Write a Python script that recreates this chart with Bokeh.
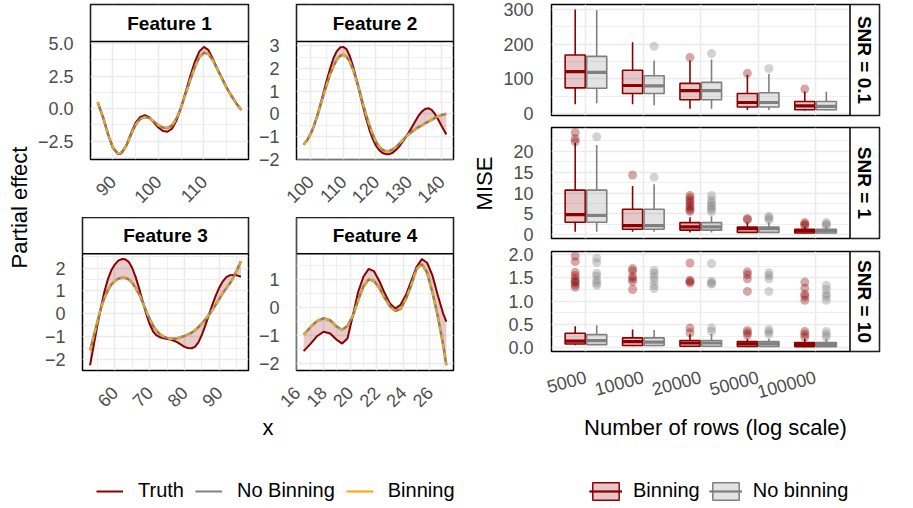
import math
import numpy as np
from bokeh.plotting import figure
from bokeh.models import Range1d, FixedTicker, Legend, LegendItem, BoxAnnotation, Label
from bokeh.layouts import row, column
from bokeh.core.properties import value
from bokeh.embed import file_html
from bokeh.resources import INLINE

FONT = "Liberation Sans"
TICK_COLOR = "#4D4D4D"
GRID = "#EBEBEB"
DARKRED = "#8B0000"
GREY = "#808080"
ORANGE = "#FFA500"

# ---------------- partial effects (left) ----------------
feature_titles = ["Feature 1", "Feature 2", "Feature 3", "Feature 4"]

f1_x = [86.7, 88, 89, 90, 91, 91.5, 92, 93, 94, 95, 96, 97, 98, 99, 100, 101, 102, 103, 104, 105,
        106, 107, 108, 109, 110, 111, 112, 113, 114, 115, 116, 117, 118.2]
f1_truth = [0.5, -0.8, -2.0, -3.0, -3.45, -3.5, -3.4, -2.8, -1.9, -1.1, -0.65, -0.5, -0.65, -1.05, -1.45,
            -1.72, -1.78, -1.55, -0.9, 0.1, 1.3, 2.5, 3.6, 4.4, 4.75, 4.5, 3.8, 3.0, 2.3, 1.6, 1.0, 0.45, -0.1]
f1_nobin = [0.5, -0.8, -2.0, -2.95, -3.4, -3.45, -3.35, -2.85, -2.0, -1.25, -0.8, -0.65, -0.72, -0.98, -1.28,
            -1.45, -1.48, -1.3, -0.75, 0.1, 1.15, 2.2, 3.2, 3.95, 4.3, 4.2, 3.7, 3.0, 2.3, 1.6, 1.0, 0.45, -0.1]
f1_bin = [0.5, -0.8, -2.0, -2.95, -3.4, -3.45, -3.35, -2.85, -2.0, -1.25, -0.8, -0.65, -0.72, -0.98, -1.28,
          -1.45, -1.48, -1.3, -0.75, 0.1, 1.15, 2.2, 3.2, 3.95, 4.3, 4.2, 3.7, 3.0, 2.3, 1.6, 1.0, 0.45, -0.1]
f1_xticks = [90, 100, 110]
f1_xminor = [95, 105, 115]
f1_yticks = [-2.5, 0, 2.5, 5]
f1_yticklabels = ["\u22122.5", "0.0", "2.5", "5.0"]
f1_yminor = [-3.75, -1.25, 1.25, 3.75]

f2_x = [97.9, 99, 100, 101, 102, 103, 104, 105, 106, 107, 108, 109, 110, 111, 112, 113, 114, 115, 116, 117,
        118, 119, 120, 121, 122, 123, 124, 125, 126, 127, 128, 129, 130, 131, 132, 133, 134, 135, 136, 137,
        138, 139, 140, 141, 141.5]
f2_truth = [-1.35, -1.15, -0.9, -0.55, -0.1, 0.4, 0.95, 1.5, 2.0, 2.45, 2.75, 2.92, 2.95, 2.85, 2.55, 2.1,
            1.55, 0.95, 0.35, -0.2, -0.7, -1.1, -1.4, -1.6, -1.72, -1.77, -1.77, -1.72, -1.6, -1.45, -1.25,
            -1.05, -0.82, -0.58, -0.32, -0.08, 0.1, 0.22, 0.25, 0.18, 0.0, -0.25, -0.52, -0.78, -0.9]
f2_nobin = [-1.35, -1.15, -0.88, -0.55, -0.12, 0.35, 0.85, 1.3, 1.75, 2.1, 2.38, 2.55, 2.6, 2.52, 2.3, 1.95,
            1.5, 1.0, 0.45, -0.05, -0.5, -0.9, -1.22, -1.45, -1.58, -1.64, -1.63, -1.57, -1.47, -1.33, -1.18,
            -1.03, -0.9, -0.78, -0.68, -0.58, -0.5, -0.42, -0.34, -0.26, -0.18, -0.11, -0.05, -0.01, 0.0]
f2_bin = [-1.35, -1.15, -0.88, -0.55, -0.12, 0.35, 0.85, 1.3, 1.75, 2.1, 2.38, 2.55, 2.6, 2.52, 2.3, 1.95,
          1.5, 1.0, 0.45, -0.05, -0.5, -0.9, -1.22, -1.45, -1.58, -1.64, -1.63, -1.57, -1.47, -1.33, -1.18,
          -1.03, -0.9, -0.78, -0.68, -0.58, -0.5, -0.42, -0.34, -0.26, -0.18, -0.11, -0.05, -0.01, 0.0]
f2_xticks = [100, 110, 120, 130, 140]
f2_xminor = [105, 115, 125, 135]
f2_yticks = [-2, -1, 0, 1, 2, 3]
f2_yticklabels = ["\u22122", "\u22121", "0", "1", "2", "3"]
f2_yminor = [-1.5, -0.5, 0.5, 1.5, 2.5]

f3_x = [52.9, 54, 55, 56, 57, 58, 59, 60, 61, 62, 63, 64, 65, 66, 67, 68, 69, 70, 71, 72, 73, 74, 75,
        76, 77, 78, 79, 80, 81, 82, 83, 84, 85, 86, 87, 88, 89, 90, 91, 92, 93, 94, 95, 96.2]
f3_truth = [-2.25, -1.35, -0.5, 0.25, 0.95, 1.5, 1.9, 2.15, 2.32, 2.39, 2.38, 2.27, 2.0, 1.6, 1.1, 0.55,
            0.0, -0.45, -0.78, -0.95, -1.03, -1.07, -1.1, -1.13, -1.18, -1.25, -1.35, -1.45, -1.5, -1.51,
            -1.45, -1.25, -0.92, -0.5, -0.05, 0.4, 0.8, 1.15, 1.42, 1.6, 1.68, 1.7, 1.68, 1.62]
f3_nobin = [-1.6, -0.95, -0.35, 0.22, 0.68, 1.02, 1.27, 1.43, 1.53, 1.57, 1.57, 1.5, 1.35, 1.12, 0.85, 0.5,
            0.12, -0.22, -0.52, -0.74, -0.9, -1.0, -1.06, -1.09, -1.09, -1.07, -1.02, -0.97, -0.9, -0.83,
            -0.73, -0.58, -0.42, -0.25, -0.05, 0.17, 0.4, 0.65, 0.9, 1.12, 1.32, 1.58, 1.9, 2.3]
f3_bin = [-1.6, -0.95, -0.35, 0.22, 0.68, 1.02, 1.27, 1.43, 1.53, 1.57, 1.57, 1.5, 1.35, 1.12, 0.85, 0.5,
          0.12, -0.22, -0.52, -0.74, -0.9, -1.0, -1.06, -1.09, -1.09, -1.07, -1.02, -0.97, -0.9, -0.83,
          -0.73, -0.58, -0.42, -0.25, -0.05, 0.17, 0.4, 0.65, 0.9, 1.12, 1.32, 1.58, 1.9, 2.3]
f3_xticks = [60, 70, 80, 90]
f3_xminor = [55, 65, 75, 85, 95]
f3_yticks = [-2, -1, 0, 1, 2]
f3_yticklabels = ["\u22122", "\u22121", "0", "1", "2"]
f3_yminor = [-1.5, -0.5, 0.5, 1.5, 2.5]

f4_x = [16.5, 17.0, 17.5, 18.0, 18.5, 19.0, 19.4, 19.8, 20.2, 20.6, 21.0, 21.4, 21.8, 22.2, 22.6, 23.0,
        23.4, 23.8, 24.2, 24.6, 25.0, 25.4, 25.8, 26.2, 26.6, 27.0, 27.25]
f4_truth = [-1.55, -1.3, -1.02, -0.86, -0.92, -1.15, -1.28, -1.1, -0.3, 0.55, 1.1, 1.38, 1.3, 0.95, 0.52,
            0.15, -0.03, 0.1, 0.45, 0.95, 1.45, 1.73, 1.6, 1.15, 0.45, -0.2, -0.5]
f4_nobin = [-0.96, -0.7, -0.48, -0.38, -0.45, -0.68, -0.79, -0.65, -0.3, 0.25, 0.75, 1.0, 0.95, 0.7, 0.35,
            0.05, -0.12, -0.05, 0.3, 0.8, 1.38, 1.55, 1.25, 0.55, -0.3, -1.3, -2.05]
f4_bin = [-0.96, -0.7, -0.48, -0.38, -0.45, -0.68, -0.79, -0.65, -0.3, 0.25, 0.75, 1.0, 0.95, 0.7, 0.35,
          0.05, -0.12, -0.05, 0.3, 0.8, 1.38, 1.55, 1.25, 0.55, -0.3, -1.3, -2.05]
f4_xticks = [16, 18, 20, 22, 24, 26]
f4_xminor = [17, 19, 21, 23, 25, 27]
f4_yticks = [-2, -1, 0, 1]
f4_yticklabels = ["\u22122", "\u22121", "0", "1"]
f4_yminor = [-1.5, -0.5, 0.5, 1.5]

# ---------------- MISE boxplots (right) ----------------
n_rows = ["5000", "10000", "20000", "50000", "100000"]
snr_labels = ["SNR = 0.1", "SNR = 1", "SNR = 10"]

# SNR = 0.1
bin01_lower = [27, 27, 14, 10, 9]
bin01_q1 = [74, 58, 40, 19, 11]
bin01_med = [121, 81, 66, 32, 22]
bin01_q3 = [169, 125, 87, 58, 35]
bin01_upper = [300, 206, 153, 112, 64]
bin01_out = [[], [], [162], [116], [71]]
nob01_lower = [30, 24, 14, 10, 9]
nob01_q1 = [73, 58, 40, 19, 11]
nob01_med = [119, 80, 66, 32, 21]
nob01_q3 = [165, 109, 90, 60, 35]
nob01_upper = [298, 153, 156, 114, 63]
nob01_out = [[], [194], [173], [130], []]
snr01_yticks = [0, 100, 200, 300]
snr01_yticklabels = ["0", "100", "200", "300"]
snr01_yminor = [50, 150, 250]

# SNR = 1
bin1_lower = [0.7, 0.7, 0.5, 0.4, 0.3]
bin1_q1 = [3.0, 1.3, 1.1, 0.55, 0.4]
bin1_med = [4.8, 2.2, 1.9, 1.45, 0.9]
bin1_q3 = [10.7, 6.1, 2.9, 1.85, 1.3]
bin1_upper = [22.0, 11.7, 4.2, 3.0, 1.9]
bin1_out = [[22.3, 23.0, 24.5], [14.3], [5.6, 6.0, 6.5, 7.0, 7.6, 8.2, 8.8, 9.4], [3.6, 3.9], [2.2, 2.5, 2.9]]
nob1_lower = [0.7, 0.7, 0.5, 0.4, 0.3]
nob1_q1 = [3.0, 1.3, 1.1, 0.55, 0.4]
nob1_med = [4.6, 2.2, 1.9, 1.45, 0.9]
nob1_q3 = [10.7, 6.1, 2.9, 1.85, 1.3]
nob1_upper = [21.5, 12.1, 4.4, 2.9, 1.9]
nob1_out = [[23.5], [13.8], [5.5, 6.1, 6.6, 7.1, 7.7, 8.4, 9.4], [3.6, 4.0, 4.4], [2.2, 2.5, 2.9]]
snr1_yticks = [0, 5, 10, 15, 20]
snr1_yticklabels = ["0", "5", "10", "15", "20"]
snr1_yminor = [2.5, 7.5, 12.5, 17.5, 22.5]

# SNR = 10
bin10_lower = [0.05, 0.03, 0.025, 0.02, 0.015]
bin10_q1 = [0.077, 0.045, 0.03, 0.026, 0.02]
bin10_med = [0.14, 0.13, 0.10, 0.08, 0.07]
bin10_q3 = [0.31, 0.21, 0.155, 0.13, 0.11]
bin10_upper = [0.46, 0.39, 0.29, 0.19, 0.19]
bin10_out = [[1.30, 1.35, 1.40, 1.43, 1.48, 1.55, 1.62, 1.85, 1.97],
             [1.25, 1.42, 1.48, 1.53, 1.65, 1.70],
             [0.32, 0.42, 1.39, 1.42, 1.45, 1.82],
             [0.27, 0.32, 0.37, 1.21, 1.48, 1.57, 1.63],
             [0.23, 0.29, 0.35, 1.02, 1.10, 1.15, 1.28, 1.41]]
nob10_lower = [0.05, 0.03, 0.025, 0.02, 0.015]
nob10_q1 = [0.065, 0.045, 0.03, 0.026, 0.02]
nob10_med = [0.15, 0.12, 0.10, 0.08, 0.07]
nob10_q3 = [0.28, 0.21, 0.155, 0.13, 0.11]
nob10_upper = [0.48, 0.38, 0.30, 0.19, 0.19]
nob10_out = [[1.34, 1.39, 1.45, 1.54, 1.60, 1.83, 1.92],
             [1.27, 1.34, 1.44, 1.52, 1.60, 1.66],
             [0.35, 0.42, 1.37, 1.39, 1.43, 1.81],
             [0.29, 0.34, 0.39, 1.21, 1.48, 1.55, 1.61],
             [0.23, 0.29, 0.35, 1.02, 1.10, 1.15, 1.25, 1.34]]
snr10_yticks = [0, 0.5, 1.0, 1.5, 2.0]
snr10_yticklabels = ["0.0", "0.5", "1.0", "1.5", "2.0"]
snr10_yminor = [0.25, 0.75, 1.25, 1.75]

legend_curves = ["Truth", "No Binning", "Binning"]
legend_boxes = ["Binning", "No binning"]

# ---------------- helpers ----------------
TICK_SIZE = "18px"
STRIP_SIZE = "19px"
TITLE_SIZE = "22px"
FW = 166           # frame width of the feature panels (px)


def base_fig(w, h, xr, yr, mbl, mbr, mbt, mbb, axes=True):
    kw = dict(width=w, height=h, x_range=xr, y_range=yr, output_backend="svg",
              toolbar_location=None, title=None, min_border_left=mbl, min_border_right=mbr,
              min_border_top=mbt, min_border_bottom=mbb)
    if not axes:
        kw.update(x_axis_type=None, y_axis_type=None)
    p = figure(**kw)
    p.background_fill_color = "white"
    p.border_fill_color = "white"
    return p


def style_axes(p, xt, xm, yt, ym, ylabels):
    xtk = FixedTicker(ticks=xt, minor_ticks=xm)
    ytk = FixedTicker(ticks=yt, minor_ticks=ym)
    p.xaxis.ticker = xtk
    p.xgrid.ticker = xtk
    p.yaxis.ticker = ytk
    p.ygrid.ticker = ytk
    for ax in (p.xaxis, p.yaxis):
        ax.major_tick_line_color = None
        ax.minor_tick_line_color = None
        ax.axis_line_color = None
        ax.major_label_text_font = FONT
        ax.major_label_text_font_size = TICK_SIZE
        ax.major_label_text_color = TICK_COLOR
    for g in (p.xgrid, p.ygrid):
        g.grid_line_color = GRID
        g.grid_line_width = 1.6
        g.minor_grid_line_color = GRID
        g.minor_grid_line_width = 0.8
    p.yaxis.major_label_overrides = {t: l for t, l in zip(yt, ylabels)}
    p.yaxis.major_label_standoff = 11
    p.outline_line_color = "black"
    p.outline_line_width = 1.5


def limits(vals):
    lo, hi = min(vals), max(vals)
    pad = 0.05 * (hi - lo)
    return lo - pad, hi + pad


def strip_box(**edges):
    return BoxAnnotation(fill_color="white", fill_alpha=1.0, line_color="black", line_alpha=1.0,
                         line_width=1.5, **edges)


def feature_panel(title, x, truth, nobin, binning, xt, xm, yt, ylabels, ym,
                  mbl, mbr, mbt, strip_h, panel_h, mbb):
    x0, x1 = limits(x)
    y0, y1 = limits(truth + nobin + binning)
    strip_units = strip_h * (y1 - y0) / panel_h
    p = base_fig(mbl + FW + mbr, mbt + strip_h + panel_h + mbb, Range1d(x0, x1),
                 Range1d(y0, y1 + strip_units), mbl, mbr, mbt, mbb)
    p.varea(x=x, y1=truth, y2=nobin, fill_color=DARKRED, fill_alpha=0.2)
    p.line(x, truth, line_color=DARKRED, line_width=2)
    p.line(x, nobin, line_color=GREY, line_width=2.6)
    p.line(x, binning, line_color=ORANGE, line_width=2, line_dash="5 4")
    style_axes(p, xt, xm, yt, ym, ylabels)
    p.xaxis.major_label_orientation = math.pi / 4
    p.xaxis.major_label_standoff = 13
    # facet strip on top of the panel
    p.add_layout(strip_box(bottom=y1))
    p.add_layout(Label(x=(x0 + x1) / 2, y=y1 + strip_units / 2, text=title, text_align="center",
                       text_baseline="middle", text_font=FONT, text_font_style="bold",
                       text_font_size=STRIP_SIZE, text_color="black"))
    return p


BOX_W = 0.35
DODGE = 0.1875
PANEL_W = 334
STRIP_W = 33


def draw_boxes(p, offset, lower, q1, med, q3, upper, out, lc):
    xs = [i + 1 + offset for i in range(len(n_rows))]
    p.segment(x0=xs, y0=q3, x1=xs, y1=upper, line_color=lc, line_width=1.6)
    p.segment(x0=xs, y0=lower, x1=xs, y1=q1, line_color=lc, line_width=1.6)
    p.vbar(x=xs, width=BOX_W, bottom=q1, top=q3, fill_color=lc, fill_alpha=0.22,
           line_color=lc, line_width=1.6)
    p.segment(x0=[x - BOX_W / 2 for x in xs], y0=med, x1=[x + BOX_W / 2 for x in xs], y1=med,
              line_color=lc, line_width=3.2)
    ox = [xs[i] for i, o in enumerate(out) for _ in o]
    oy = [v for o in out for v in o]
    p.scatter(ox, oy, size=9, fill_color=lc, fill_alpha=0.35, line_color=None)


def box_panel(label, b, n, yt, ylabels, ym, mbt, fh, mbb, show_x):
    allv = b[0] + b[4] + n[0] + n[4] + [v for o in b[5] + n[5] for v in o]
    y0, y1 = limits(allv)
    x0, x1 = 0.4, len(n_rows) + 0.6
    strip_units = STRIP_W * (x1 - x0) / PANEL_W
    p = base_fig(45 + PANEL_W + STRIP_W + 0, mbt + fh + mbb, Range1d(x0, x1 + strip_units),
                 Range1d(y0, y1), 45, 0, mbt, mbb)
    draw_boxes(p, -DODGE, *b, DARKRED)
    draw_boxes(p, DODGE, *n, GREY)
    style_axes(p, list(range(1, len(n_rows) + 1)), [], yt, ym, ylabels)
    p.yaxis.major_label_standoff = 12
    if show_x:
        p.xaxis.major_label_overrides = {i + 1: lab for i, lab in enumerate(n_rows)}
        p.xaxis.major_label_orientation = math.radians(15)
        p.xaxis.major_label_standoff = 19
    else:
        p.xaxis.visible = False
    p.add_layout(strip_box(left=x1))
    p.add_layout(Label(x=x1 + strip_units / 2, y=(y0 + y1) / 2, text=label, angle=-math.pi / 2,
                       text_align="center", text_baseline="middle", text_font=FONT,
                       text_font_style="bold", text_font_size=STRIP_SIZE, text_color="black"))
    return p


def text_fig(w, h, mbl, mbr, mbt, mbb, label, angle):
    p = base_fig(w, h, Range1d(0, 1), Range1d(0, 1), mbl, mbr, mbt, mbb, axes=False)
    p.outline_line_color = None
    p.text(x=[0.5], y=[0.5], text=[label], angle=angle, text_align="center", text_baseline="middle",
           text_font=value(FONT), text_font_size=TITLE_SIZE, text_color="black")
    return p


# ---------------- left block ----------------
p1 = feature_panel(feature_titles[0], f1_x, f1_truth, f1_nobin, f1_bin, f1_xticks, f1_xminor,
                   f1_yticks, f1_yticklabels, f1_yminor, 48, 7, 4, 37, 118, 58)
p2 = feature_panel(feature_titles[1], f2_x, f2_truth, f2_nobin, f2_bin, f2_xticks, f2_xminor,
                   f2_yticks, f2_yticklabels, f2_yminor, 32, 10, 4, 37, 118, 58)
p3 = feature_panel(feature_titles[2], f3_x, f3_truth, f3_nobin, f3_bin, f3_xticks, f3_xminor,
                   f3_yticks, f3_yticklabels, f3_yminor, 48, 7, 0, 37, 119, 42)
p4 = feature_panel(feature_titles[3], f4_x, f4_truth, f4_nobin, f4_bin, f4_xticks, f4_xminor,
                   f4_yticks, f4_yticklabels, f4_yminor, 32, 10, 0, 37, 119, 42)
xlab_left = text_fig(48 + FW + 7 + 32 + FW + 10, 30, 48, 10, 0, 6, "x", 0)
ylab_left = text_fig(34, 445, 4, 0, 41, 72, "Partial effect", math.pi / 2)

left_block = row(ylab_left, column(row(p1, p2), row(p3, p4), xlab_left))

# ---------------- right block ----------------
b1 = box_panel(snr_labels[0],
               [bin01_lower, bin01_q1, bin01_med, bin01_q3, bin01_upper, bin01_out],
               [nob01_lower, nob01_q1, nob01_med, nob01_q3, nob01_upper, nob01_out],
               snr01_yticks, snr01_yticklabels, snr01_yminor, 4, 111, 9, False)
b2 = box_panel(snr_labels[1],
               [bin1_lower, bin1_q1, bin1_med, bin1_q3, bin1_upper, bin1_out],
               [nob1_lower, nob1_q1, nob1_med, nob1_q3, nob1_upper, nob1_out],
               snr1_yticks, snr1_yticklabels, snr1_yminor, 3, 111, 7, False)
b3 = box_panel(snr_labels[2],
               [bin10_lower, bin10_q1, bin10_med, bin10_q3, bin10_upper, bin10_out],
               [nob10_lower, nob10_q1, nob10_med, nob10_q3, nob10_upper, nob10_out],
               snr10_yticks, snr10_yticklabels, snr10_yminor, 6, 111, 45, True)
xlab_right = text_fig(45 + PANEL_W + STRIP_W, 38, 45, STRIP_W, 4, 2, "Number of rows (log scale)", 0)
ylab_right = text_fig(37, 445, 4, 0, 4, 83, "MISE", math.pi / 2)

right_block = row(ylab_right, column(b1, b2, b3, xlab_right))

# ---------------- legends ----------------
lg = base_fig(912, 62, Range1d(0, 1), Range1d(0, 1), 0, 0, 0, 0, axes=False)
lg.outline_line_color = None
nan = np.array([np.nan])
r_truth = lg.line(x=nan, y=nan, line_color=DARKRED, line_width=2)
r_nob = lg.line(x=nan, y=nan, line_color=GREY, line_width=2)
r_bin = lg.line(x=nan, y=nan, line_color=ORANGE, line_width=2)

box_items = []
for lab, col in zip(legend_boxes, [DARKRED, GREY]):
    rw = lg.vspan(x=nan, line_color=col, line_width=1.5)
    rb = lg.vbar(x=nan, top=nan, bottom=nan, width=0.1, fill_color=col, fill_alpha=0.22,
                 line_color=col, line_width=1.5)
    rm = lg.segment(x0=nan, y0=nan, x1=nan, y1=nan, line_color=col, line_width=2)
    box_items.append(LegendItem(label=lab, renderers=[rw, rb, rm]))

common = dict(orientation="horizontal", glyph_height=22, label_height=22, padding=0, margin=0,
              border_line_color=None, background_fill_alpha=0, label_text_font=FONT,
              label_text_font_size="20px", label_text_color="black")
leg1 = Legend(items=[LegendItem(label=legend_curves[0], renderers=[r_truth]),
                     LegendItem(label=legend_curves[1], renderers=[r_nob]),
                     LegendItem(label=legend_curves[2], renderers=[r_bin])],
              location=(96, 5), glyph_width=27, label_standoff=15, spacing=11, **common)
leg2 = Legend(items=box_items, location=(589, 5), glyph_width=33, label_standoff=11, spacing=9, **common)
lg.add_layout(leg1)
lg.add_layout(leg2)

root = column(row(left_block, right_block), lg)

open("out.html", "w").write(file_html(root, INLINE))
